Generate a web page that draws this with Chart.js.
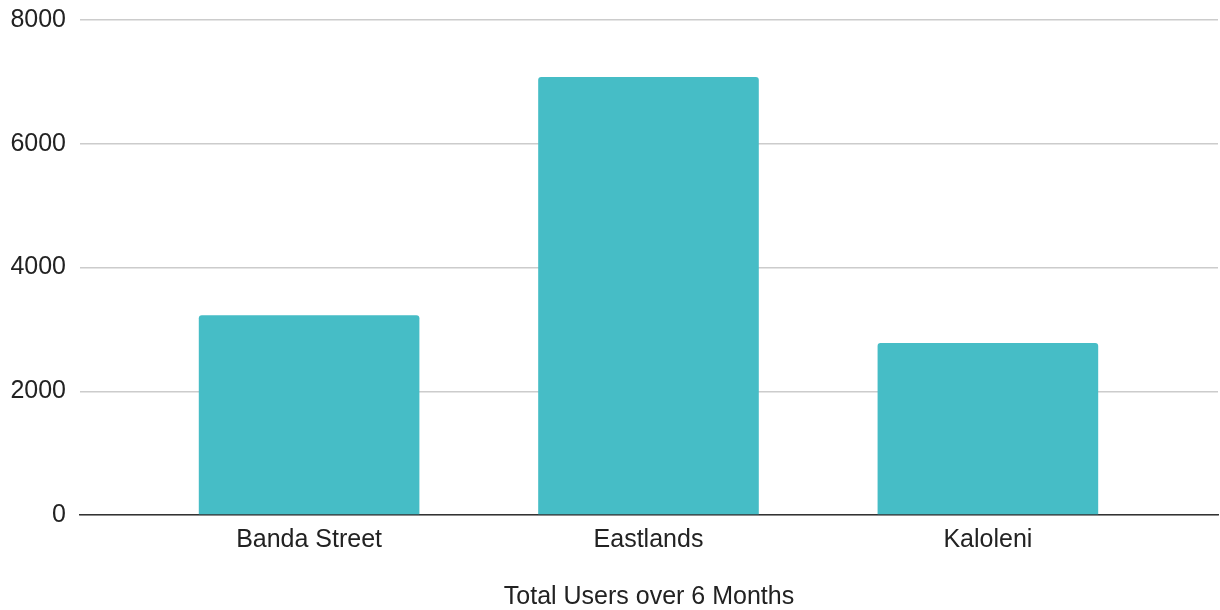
<!DOCTYPE html>
<html>
<head>
<meta charset="utf-8">
<script src="https://cdn.jsdelivr.net/npm/chart.js@4.4.1/dist/chart.umd.min.js"></script>
<style>
  html, body { margin: 0; padding: 0; background: #fff; }
  #wrap { width: 1220px; height: 610px; }
</style>
</head>
<body>
<div id="wrap"><canvas id="usersChart"></canvas></div>
<script>
const categories = ["Banda Street", "Eastlands", "Kaloleni"];
const totalUsers = [3230, 7080, 2780];
const yMax = 8000;
const yStep = 2000;
const xTitle = "Total Users over 6 Months";

Chart.defaults.font.family = "'Liberation Sans', Arial, sans-serif";
Chart.defaults.color = '#222222';

const ctx = document.getElementById('usersChart').getContext('2d');

new Chart(ctx, {
  type: 'bar',
  data: {
    datasets: [{
      label: xTitle,
      data: totalUsers.map((v, i) => ({ x: i, y: v })),
      backgroundColor: '#46BDC6',
      borderRadius: 3,
      borderSkipped: 'start',
      categoryPercentage: 1,
      barPercentage: 0.65
    }]
  },
  options: {
    responsive: true,
    maintainAspectRatio: false,
    animation: false,
    layout: { padding: { top: 20, right: 2, bottom: 0, left: 0 } },
    plugins: {
      legend: { display: false },
      tooltip: { enabled: false }
    },
    scales: {
      x: {
        type: 'linear',
        offset: false,
        min: -0.675,
        max: 2.678,
        afterBuildTicks: scale => {
          scale.ticks = categories.map((c, i) => ({ value: i }));
        },
        afterFit: scale => { scale.height = 95; },
        grid: { display: false, drawTicks: false },
        border: { display: true, color: '#333333', width: 1.5 },
        ticks: {
          autoSkip: false,
          maxRotation: 0,
          padding: 10,
          font: { size: 25 },
          callback: v => categories[v]
        },
        title: {
          display: true,
          text: xTitle,
          font: { size: 25, lineHeight: 1 },
          padding: { top: 9, bottom: 0 }
        }
      },
      y: {
        min: 0,
        max: yMax,
        afterFit: scale => {
          scale.width = 80;
          scale.paddingTop = 0;
          scale.paddingBottom = 0;
        },
        grid: { color: '#cccccc', lineWidth: 1.5, drawTicks: false },
        border: { display: false },
        ticks: {
          stepSize: yStep,
          padding: 14,
          font: { size: 25 },
          callback: v => String(v)
        }
      }
    }
  }
});
</script>
</body>
</html>
